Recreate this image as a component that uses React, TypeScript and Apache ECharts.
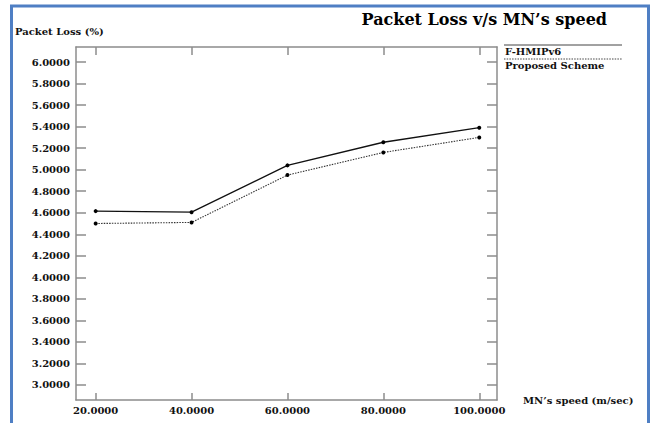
import React, { useEffect, useRef } from "react";
import * as echarts from "echarts";

const speeds = [20, 40, 60, 80, 100];
const fhmipv6 = [4.615, 4.605, 5.04, 5.255, 5.39];
const proposed = [4.5, 4.51, 4.95, 5.16, 5.3];
const xTicks = [20, 40, 60, 80, 100];
const yTicks = [3.0, 3.2, 3.4, 3.6, 3.8, 4.0, 4.2, 4.4, 4.6, 4.8, 5.0, 5.2, 5.4, 5.6, 5.8, 6.0];
const seriesNames = ["F-HMIPv6", "Proposed Scheme"];

const SERIF = "'DejaVu Serif', 'Liberation Serif', serif";
const AXIS_COLOR = "#8c8c8c";

export default function App() {
  const ref = useRef<HTMLDivElement>(null);
  useEffect(() => {
    if (!ref.current) return;
    const chart = echarts.init(ref.current, null, { renderer: "svg" });
    const xMin = 15.9, xMax = 103.7, yMin = 2.86, yMax = 6.14;
    const axisLine = { show: true, lineStyle: { color: AXIS_COLOR, width: 1.5 } };
    const smallText = { fontFamily: SERIF, fontWeight: "bold", fontSize: 10, fill: "#111", textVerticalAlign: "middle" };
    chart.setOption({
      animation: false,
      backgroundColor: "#ffffff",
      grid: { left: 76, right: 157, top: 47, bottom: 23, containLabel: false },
      title: {
        text: "Packet Loss v/s MN\u2019s speed",
        right: 42,
        top: 6,
        textStyle: { fontFamily: SERIF, fontWeight: "bold", fontSize: 16, color: "#000" },
      },
      xAxis: [
        {
          type: "value",
          position: "bottom",
          min: xMin,
          max: xMax,
          name: "MN\u2019s speed (m/sec)",
          nameLocation: "end",
          nameGap: 26,
          nameTextStyle: { fontFamily: SERIF, fontWeight: "bold", fontSize: 10, color: "#111", verticalAlign: "middle" },
          axisLine,
          axisTick: { show: true, inside: true, length: 7, customValues: xTicks, lineStyle: { color: AXIS_COLOR, width: 1.5 } },
          axisLabel: {
            show: true,
            customValues: xTicks,
            formatter: (v: number) => v.toFixed(4),
            fontFamily: SERIF,
            fontWeight: "bold",
            fontSize: 10,
            color: "#111",
            margin: 5,
          },
          splitLine: { show: false },
        },
        {
          type: "value",
          position: "top",
          min: xMin,
          max: xMax,
          axisLine,
          axisTick: { show: true, inside: true, length: 8, customValues: xTicks, lineStyle: { color: AXIS_COLOR, width: 1.5 } },
          axisLabel: { show: false },
          splitLine: { show: false },
        },
      ],
      yAxis: [
        {
          type: "value",
          position: "left",
          min: yMin,
          max: yMax,
          axisLine,
          axisTick: { show: true, inside: true, length: 10, customValues: yTicks, lineStyle: { color: AXIS_COLOR, width: 1.5 } },
          axisLabel: {
            show: true,
            customValues: yTicks,
            formatter: (v: number) => v.toFixed(4),
            fontFamily: SERIF,
            fontWeight: "bold",
            fontSize: 10,
            color: "#111",
            margin: 6,
          },
          splitLine: { show: false },
        },
        {
          type: "value",
          position: "right",
          min: yMin,
          max: yMax,
          axisLine,
          axisTick: { show: true, inside: true, length: 10, customValues: yTicks, lineStyle: { color: AXIS_COLOR, width: 1.5 } },
          axisLabel: { show: false },
          splitLine: { show: false },
        },
      ],
      series: [
        {
          name: seriesNames[0],
          type: "line",
          xAxisIndex: 0,
          yAxisIndex: 0,
          data: speeds.map((s, i) => [s, fhmipv6[i]]),
          symbol: "circle",
          symbolSize: 4,
          itemStyle: { color: "#000" },
          lineStyle: { color: "#111", width: 1.3, type: "solid" },
        },
        {
          name: seriesNames[1],
          type: "line",
          xAxisIndex: 0,
          yAxisIndex: 0,
          data: speeds.map((s, i) => [s, proposed[i]]),
          symbol: "circle",
          symbolSize: 4,
          itemStyle: { color: "#000" },
          lineStyle: { color: "#333", width: 1.1, type: [1.5, 1.2] },
        },
      ],
      graphic: [
        {
          type: "rect",
          shape: { x: 11.5, y: 6, width: 637, height: 440 },
          style: { fill: "none", stroke: "#4f7fc4", lineWidth: 3 },
          silent: true,
        },
        {
          type: "text",
          x: 15,
          y: 31,
          style: { ...smallText, text: "Packet Loss (%)" },
        },
        {
          type: "line",
          shape: { x1: 504, y1: 45, x2: 622, y2: 45 },
          style: { stroke: "#444", lineWidth: 1 },
        },
        {
          type: "text",
          x: 505,
          y: 51,
          style: { ...smallText, text: seriesNames[0] },
        },
        {
          type: "line",
          shape: { x1: 504, y1: 59, x2: 622, y2: 59 },
          style: { stroke: "#444", lineWidth: 1, lineDash: [1.5, 1.2] },
        },
        {
          type: "text",
          x: 505,
          y: 65,
          style: { ...smallText, text: seriesNames[1] },
        },
      ],
    });
    return () => chart.dispose();
  }, []);
  return (
    <div
      ref={ref}
      style={{ position: "fixed", left: 0, top: 0, width: 654, height: 423, background: "#fff" }}
    />
  );
}
